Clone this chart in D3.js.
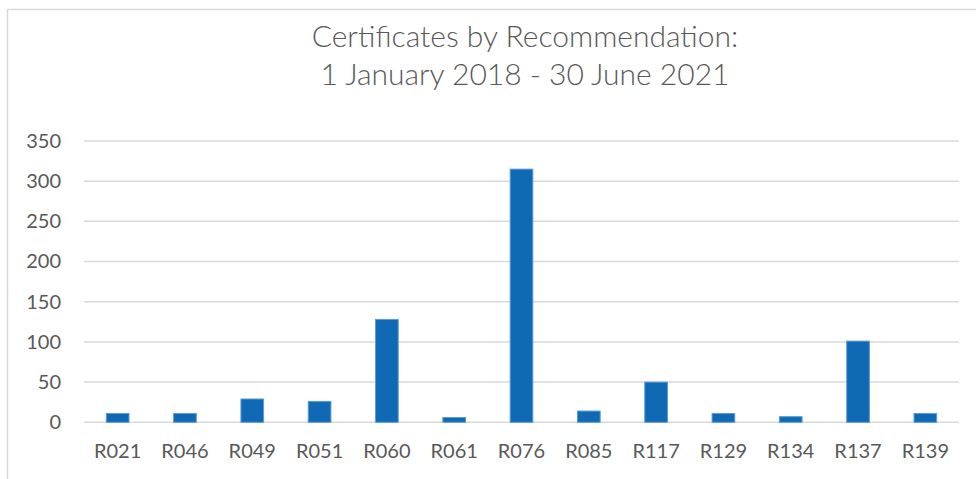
<!DOCTYPE html>
<html>
<head>
<meta charset="utf-8">
<script src="https://cdn.jsdelivr.net/npm/d3@7"></script>
<style>
  html, body { margin: 0; padding: 0; background: #ffffff; }
  svg { display: block; }
  text { font-family: Lato, "Open Sans", sans-serif; fill: #595959; }
</style>
</head>
<body>
<svg id="chart" width="976" height="479"></svg>
<script>
const titleLines = ["Certificates by Recommendation:", "1 January 2018 - 30 June 2021"];
const categories = ["R021","R046","R049","R051","R060","R061","R076","R085","R117","R129","R134","R137","R139"];
const values = [11, 11, 29, 26, 128, 6, 315, 14, 50, 11, 7, 101, 11];
const yTicks = [0, 50, 100, 150, 200, 250, 300, 350];

const svg = d3.select("#chart");
const W = 976, H = 479;
const plot = { left: 84, right: 959, top: 141, bottom: 422.3 };

// chart area border
svg.append("rect")
  .attr("x", 7.5).attr("y", 9.5)
  .attr("width", W + 10).attr("height", H + 10)
  .attr("fill", "none").attr("stroke", "#d9d9d9").attr("stroke-width", 1.5);

// title
const title = svg.append("text")
  .attr("text-anchor", "middle")
  .style("font-size", "30px")
  .style("font-weight", "300");
title.selectAll("tspan").data(titleLines).join("tspan")
  .attr("x", 525)
  .attr("y", (d, i) => 47 + i * 38)
  .text(d => d);

const x = d3.scaleBand()
  .domain(categories)
  .range([plot.left, plot.right])
  .paddingInner(0.663)
  .paddingOuter(0.3315);

const y = d3.scaleLinear()
  .domain([0, 350])
  .range([plot.bottom, plot.top]);

// gridlines
svg.append("g").selectAll("line").data(yTicks).join("line")
  .attr("x1", plot.left).attr("x2", plot.right)
  .attr("y1", d => y(d)).attr("y2", d => y(d))
  .attr("stroke", "#d9d9d9").attr("stroke-width", 1.5);

// y axis labels
const yAxis = d3.axisLeft(y).tickValues(yTicks).tickSize(0).tickPadding(0);
const gy = svg.append("g").attr("transform", "translate(61,0)").call(yAxis);
gy.select(".domain").remove();
gy.selectAll("text")
  .style("font-size", "20px")
  .style("font-family", "Lato, 'Open Sans', sans-serif")
  .attr("fill", "#595959");

// bars
svg.append("g").selectAll("rect").data(values).join("rect")
  .attr("x", (d, i) => x(categories[i]))
  .attr("y", d => y(d))
  .attr("width", x.bandwidth())
  .attr("height", d => y(0) - y(d))
  .attr("fill", "#0f69b4")
  .attr("stroke", "#5b9bd5")
  .attr("stroke-width", 1);

// x axis labels
const xAxis = d3.axisBottom(x).tickSize(0).tickPadding(0);
const gx = svg.append("g").attr("transform", "translate(0,444)").call(xAxis);
gx.select(".domain").remove();
gx.selectAll("text")
  .style("font-size", "20px")
  .style("font-family", "Lato, 'Open Sans', sans-serif")
  .attr("fill", "#595959");
</script>
</body>
</html>
